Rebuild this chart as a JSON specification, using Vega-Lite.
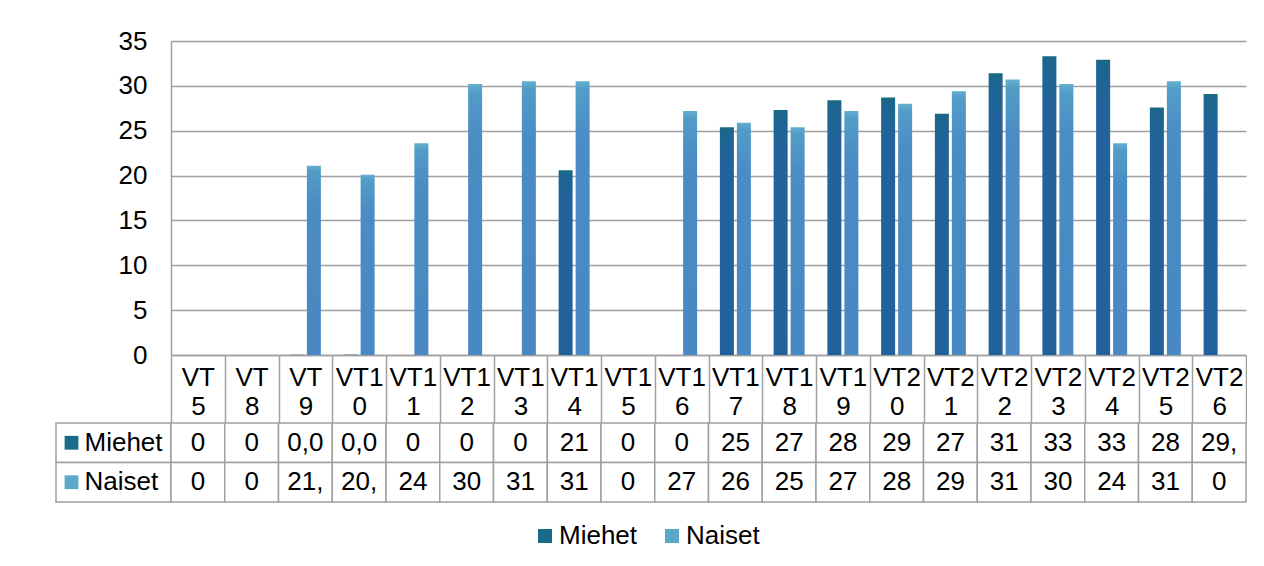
{
  "$schema": "https://vega.github.io/schema/vega-lite/v6.json",
  "padding": {"left": 55, "top": 28, "right": 0, "bottom": 0},
  "background": "white",
  "config": {
    "view": {"stroke": null},
    "font": "Liberation Sans",
    "axis": {"labelFont": "Liberation Sans", "labelColor": "black", "title": null}
  },
  "datasets": {
    "t": [
      {"cat": "VT5", "series": "Miehet", "value": 0, "shown": "0"},
      {"cat": "VT8", "series": "Miehet", "value": 0, "shown": "0"},
      {"cat": "VT9", "series": "Miehet", "value": 0.04, "shown": "0,0"},
      {"cat": "VT10", "series": "Miehet", "value": 0.04, "shown": "0,0"},
      {"cat": "VT11", "series": "Miehet", "value": 0, "shown": "0"},
      {"cat": "VT12", "series": "Miehet", "value": 0, "shown": "0"},
      {"cat": "VT13", "series": "Miehet", "value": 0, "shown": "0"},
      {"cat": "VT14", "series": "Miehet", "value": 20.6, "shown": "21"},
      {"cat": "VT15", "series": "Miehet", "value": 0, "shown": "0"},
      {"cat": "VT16", "series": "Miehet", "value": 0, "shown": "0"},
      {"cat": "VT17", "series": "Miehet", "value": 25.4, "shown": "25"},
      {"cat": "VT18", "series": "Miehet", "value": 27.3, "shown": "27"},
      {"cat": "VT19", "series": "Miehet", "value": 28.4, "shown": "28"},
      {"cat": "VT20", "series": "Miehet", "value": 28.7, "shown": "29"},
      {"cat": "VT21", "series": "Miehet", "value": 26.9, "shown": "27"},
      {"cat": "VT22", "series": "Miehet", "value": 31.4, "shown": "31"},
      {"cat": "VT23", "series": "Miehet", "value": 33.3, "shown": "33"},
      {"cat": "VT24", "series": "Miehet", "value": 32.9, "shown": "33"},
      {"cat": "VT25", "series": "Miehet", "value": 27.6, "shown": "28"},
      {"cat": "VT26", "series": "Miehet", "value": 29.1, "shown": "29,"},
      {"cat": "VT5", "series": "Naiset", "value": 0, "shown": "0"},
      {"cat": "VT8", "series": "Naiset", "value": 0, "shown": "0"},
      {"cat": "VT9", "series": "Naiset", "value": 21.1, "shown": "21,"},
      {"cat": "VT10", "series": "Naiset", "value": 20.1, "shown": "20,"},
      {"cat": "VT11", "series": "Naiset", "value": 23.6, "shown": "24"},
      {"cat": "VT12", "series": "Naiset", "value": 30.2, "shown": "30"},
      {"cat": "VT13", "series": "Naiset", "value": 30.5, "shown": "31"},
      {"cat": "VT14", "series": "Naiset", "value": 30.5, "shown": "31"},
      {"cat": "VT15", "series": "Naiset", "value": 0, "shown": "0"},
      {"cat": "VT16", "series": "Naiset", "value": 27.2, "shown": "27"},
      {"cat": "VT17", "series": "Naiset", "value": 25.9, "shown": "26"},
      {"cat": "VT18", "series": "Naiset", "value": 25.4, "shown": "25"},
      {"cat": "VT19", "series": "Naiset", "value": 27.2, "shown": "27"},
      {"cat": "VT20", "series": "Naiset", "value": 28.0, "shown": "28"},
      {"cat": "VT21", "series": "Naiset", "value": 29.4, "shown": "29"},
      {"cat": "VT22", "series": "Naiset", "value": 30.7, "shown": "31"},
      {"cat": "VT23", "series": "Naiset", "value": 30.2, "shown": "30"},
      {"cat": "VT24", "series": "Naiset", "value": 23.6, "shown": "24"},
      {"cat": "VT25", "series": "Naiset", "value": 30.5, "shown": "31"},
      {"cat": "VT26", "series": "Naiset", "value": 0, "shown": "0"}
    ]
  },
  "data": {"name": "t"},
  "columns": 2,
  "spacing": {"row": 68, "column": 0},
  "bounds": "flush",
  "concat": [
    {
      "width": 115,
      "height": 314,
      "transform": [{"filter": "false"}],
      "mark": {"type": "point", "opacity": 0}
    },
    {
      "width": 1075,
      "height": 314,
      "encoding": {
        "x": {
          "field": "cat",
          "type": "nominal",
          "scale": {"domain": ["VT5","VT8","VT9","VT10","VT11","VT12","VT13","VT14","VT15","VT16","VT17","VT18","VT19","VT20","VT21","VT22","VT23","VT24","VT25","VT26"], "paddingInner": 0, "paddingOuter": 0},
          "axis": {
            "orient": "bottom",
            "domainColor": "#a0a0a0",
            "domainWidth": 1.5,
            "ticks": true,
            "tickBand": "extent",
            "tickSize": 68,
            "tickColor": "#a0a0a0",
            "tickWidth": 1.5,
            "labelExpr": "[slice(datum.label, 0, -1), slice(datum.label, -1)]",
            "labelFontSize": 26,
            "labelLineHeight": 29,
            "labelPadding": -59,
            "labelAngle": 0,
            "labelBaseline": "top",
            "labelOverlap": false,
            "labelBound": false,
            "grid": false
          }
        },
        "xOffset": {
          "field": "series",
          "type": "nominal",
          "scale": {"domain": ["Miehet", "Naiset"], "paddingInner": 0.176, "paddingOuter": 0.669}
        },
        "y": {
          "field": "value",
          "type": "quantitative",
          "scale": {"domain": [0, 35]},
          "axis": {
            "values": [0, 5, 10, 15, 20, 25, 30, 35],
            "grid": true,
            "gridColor": "#a0a0a0",
            "gridWidth": 1.5,
            "domain": true,
            "domainColor": "#a0a0a0",
            "domainWidth": 1.5,
            "ticks": false,
            "labelPadding": 24,
            "labelFontSize": 26
          }
        }
      },
      "layer": [
        {
          "transform": [{"filter": "datum.series === 'Miehet'"}],
          "mark": {
            "type": "bar",
            "color": {"gradient": "linear", "x1": 0, "y1": 0, "x2": 0, "y2": 1,
              "stops": [{"offset": 0, "color": "#17697f"}, {"offset": 0.02, "color": "#1d6590"}, {"offset": 0.15, "color": "#21639a"}, {"offset": 1, "color": "#22629c"}]}
          }
        },
        {
          "transform": [{"filter": "datum.series === 'Naiset'"}],
          "mark": {
            "type": "bar",
            "color": {"gradient": "linear", "x1": 0, "y1": 0, "x2": 0, "y2": 1,
              "stops": [{"offset": 0, "color": "#64aece"}, {"offset": 0.03, "color": "#539cc8"}, {"offset": 0.2, "color": "#4a8cc4"}, {"offset": 1, "color": "#4988c2"}]}
          }
        }
      ]
    },
    {
      "width": 115,
      "height": 79,
      "transform": [{"filter": "datum.cat === 'VT5'"}],
      "encoding": {
        "y": {"field": "series", "type": "nominal", "scale": {"domain": ["Miehet", "Naiset"], "paddingInner": 0, "paddingOuter": 0}, "axis": null}
      },
      "layer": [
        {"mark": {"type": "rect", "fill": "white", "stroke": "#a0a0a0", "strokeWidth": 1.5}},
        {
          "mark": {"type": "point", "shape": "square", "filled": true, "size": 190, "opacity": 1, "xOffset": -42},
          "encoding": {
            "color": {
              "field": "series",
              "type": "nominal",
              "scale": {"domain": ["Miehet", "Naiset"], "range": ["#1a6a8a", "#5aa9c6"]},
              "legend": {
                "orient": "none",
                "legendX": 476,
                "legendY": 482,
                "direction": "horizontal",
                "title": null,
                "symbolType": "square",
                "symbolSize": 196,
                "symbolStrokeWidth": 0,
                "symbolOpacity": 1,
                "labelFontSize": 26,
                "labelColor": "black",
                "labelOffset": 1,
                "columnPadding": 21,
                "padding": 0
              }
            }
          }
        },
        {
          "mark": {"type": "text", "align": "left", "baseline": "middle", "fontSize": 26, "dx": -29, "color": "black"},
          "encoding": {"text": {"field": "series"}}
        }
      ]
    },
    {
      "width": 1075,
      "height": 79,
      "encoding": {
        "x": {
          "field": "cat",
          "type": "nominal",
          "scale": {"domain": ["VT5","VT8","VT9","VT10","VT11","VT12","VT13","VT14","VT15","VT16","VT17","VT18","VT19","VT20","VT21","VT22","VT23","VT24","VT25","VT26"], "paddingInner": 0, "paddingOuter": 0},
          "axis": null
        },
        "y": {"field": "series", "type": "nominal", "scale": {"domain": ["Miehet", "Naiset"], "paddingInner": 0, "paddingOuter": 0}, "axis": null}
      },
      "layer": [
        {"mark": {"type": "rect", "fill": "white", "stroke": "#a0a0a0", "strokeWidth": 1.5}},
        {
          "mark": {"type": "text", "baseline": "middle", "fontSize": 26, "color": "black"},
          "encoding": {"text": {"field": "shown"}}
        }
      ]
    }
  ]
}
